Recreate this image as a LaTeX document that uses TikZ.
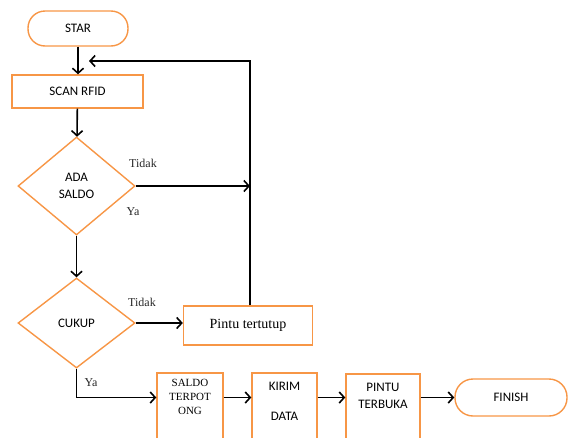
\documentclass[tikz,border=0pt]{standalone}
\usepackage{fontspec}
\setmainfont{Liberation Serif}
\newfontfamily\calfont{Carlito}
\usepackage{xcolor}
\usepackage{tikz}
\usetikzlibrary{arrows.meta, positioning, shapes.geometric}
\definecolor{boxorange}{HTML}{F79646}
\def\lbl{\calfont\fontsize{13}{17}\selectfont}

\begin{document}
\begin{tikzpicture}[x=1pt, y=-1pt,
  term/.style={draw=boxorange, line width=1.4pt, rounded corners=17pt, font=\lbl},
  proc/.style={draw=boxorange, line width=1.4pt, font=\lbl},
  cond/.style={draw=boxorange, line width=1.4pt, diamond, inner sep=0pt, align=center, font=\lbl},
  boxtext/.style={inner sep=0pt, align=center},
  yesno/.style={font=\fontsize{12}{14}\selectfont, text=black!85},
  flow/.style={line width=1.6pt, -{Straight Barb[length=5pt,width=11pt]}}]
\useasboundingbox (0,0) rectangle (568,437);

\node[term, minimum width=100pt, minimum height=35pt] (star) at (78,28.5) {STAR};
\node[proc, minimum width=131pt, minimum height=33pt] (scan) at (77.5,91.5) {SCAN RFID};
\node[cond, minimum width=117pt, minimum height=98pt] (ada) at (76.5,186) {ADA\\SALDO};
\node[cond, minimum width=117pt, minimum height=90pt] (cukup) at (76.5,323) {CUKUP};
\node[proc, minimum width=129pt, minimum height=39pt, font=\fontsize{14}{16}\selectfont] (tutup) at (248,325.5) {Pintu tertutup};

\node[proc, minimum width=66pt, minimum height=80pt] (saldo) at (190,413) {};
\node[proc, minimum width=65pt, minimum height=80pt] (kirim) at (284.5,413) {};
\node[proc, minimum width=74pt, minimum height=80pt] (buka) at (383,414) {};
\node[term, minimum width=112pt, minimum height=37pt, rounded corners=18pt] (finish) at (511,397.5) {FINISH};

\node[boxtext, below=7pt of saldo.north, font=\fontsize{11}{14}\selectfont] (saldotxt) {SALDO\\TERPOT\\ONG};
\node[boxtext, below=10pt of kirim.north, font=\lbl] (kirimtxt) {KIRIM\\[13pt]DATA};
\node[boxtext, below=10pt of buka.north, font=\lbl] (bukatxt) {PINTU\\TERBUKA};

\node[yesno] (tidak1) at (143,163) {Tidak};
\node[yesno] (ya1) at (133,212) {Ya};
\node[yesno] (tidak2) at (142,302) {Tidak};
\node[yesno] (ya2) at (91,383) {Ya};

\coordinate (corner) at (250,61);
\coordinate (back) at (89,61);

\draw[flow] (star) -- (star |- scan.north);
\draw[flow] (scan) -- (ada);
\draw[flow] (ada) -- (cukup);
\draw[flow] (ada.east) -- (ada.east -| corner);
\draw[flow] (tutup.north -| corner) -- (corner) -- (back);
\draw[flow] (cukup.east) -- (cukup.east -| tutup.west);
\draw[flow] (cukup.south) |- (saldo.west |- finish);
\draw[flow] (saldo.east |- finish) -- (kirim.west |- finish);
\draw[flow] (kirim.east |- finish) -- (buka.west |- finish);
\draw[flow] (buka.east |- finish) -- (finish);
\end{tikzpicture}
\end{document}
